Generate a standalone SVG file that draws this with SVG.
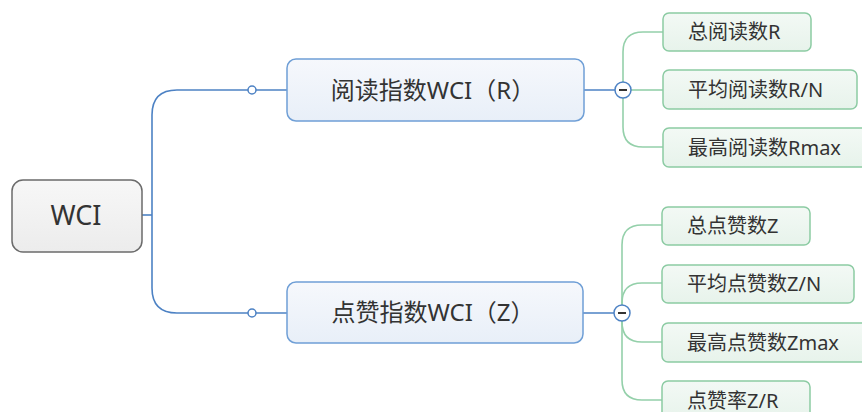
<svg xmlns="http://www.w3.org/2000/svg" width="862" height="412" viewBox="0 0 862 412">
<defs>
<linearGradient id="gRoot" x1="0" y1="0" x2="0" y2="1"><stop offset="0" stop-color="#f7f7f7"/><stop offset="1" stop-color="#ececec"/></linearGradient>
<linearGradient id="gBlue" x1="0" y1="0" x2="0" y2="1"><stop offset="0" stop-color="#f6f8fc"/><stop offset="1" stop-color="#e8eff8"/></linearGradient>
<linearGradient id="gGreen" x1="0" y1="0" x2="0" y2="1"><stop offset="0" stop-color="#f3f9f5"/><stop offset="1" stop-color="#e7f3eb"/></linearGradient>
</defs>
<style>
text{font-family:"Noto Sans","Noto Sans CJK SC",sans-serif;fill:#333}
.root{fill:url(#gRoot);stroke:#6b6b6b;stroke-width:1.5}
.main{fill:url(#gBlue);stroke:#6f9fd6;stroke-width:1.5}
.sub{fill:url(#gGreen);stroke:#8ccba3;stroke-width:1.5}
.bl{fill:none;stroke:#4d82c4;stroke-width:1.6}
.gl{fill:none;stroke:#94d0aa;stroke-width:1.6}
.dot{fill:#fff;stroke:#4d82c4;stroke-width:1.5}
.t1{font-size:27px}
.t2{font-size:24px}
.t3{font-size:20px}
</style>
<rect width="862" height="412" fill="#fff"/>
<g id="connectors">
<path class="bl" d="M142,215 H152"/>
<path class="bl" d="M287,90 H177 Q152,90 152,115 V288 Q152,313 177,313 H287"/>
<path class="bl" d="M584,90 H623"/>
<path class="bl" d="M583,313 H622"/>
<path class="gl" d="M623,90 V52 Q623,32 643,32 H663"/>
<path class="gl" d="M631,90 H663"/>
<path class="gl" d="M623,90 V127 Q623,147 643,147 H663"/>
<path class="gl" d="M622,313 V245 Q622,225 642,225 H662"/>
<path class="gl" d="M622,313 V303 Q622,283 642,283 H662"/>
<path class="gl" d="M622,313 V322 Q622,342 642,342 H662"/>
<path class="gl" d="M622,313 V380 Q622,400 642,400 H662"/>
<circle class="dot" cx="252" cy="90" r="4"/>
<circle class="dot" cx="252" cy="313" r="4"/>
<circle class="dot" cx="623" cy="90" r="8"/>
<path d="M619,90 H627" stroke="#333" stroke-width="2"/>
<circle class="dot" cx="622" cy="313" r="8"/>
<path d="M618,313 H626" stroke="#333" stroke-width="2"/>
</g>
<g id="root">
<rect class="root" x="12" y="180" width="130" height="72" rx="11"/>
<text class="t1" x="76" y="225" text-anchor="middle">WCI</text>
</g>
<g id="read">
<rect class="main" x="287" y="59" width="297" height="62" rx="9"/>
<text class="t2" x="433" y="99" text-anchor="middle">阅读指数WCI（R）</text>
</g>
<g id="like">
<rect class="main" x="287" y="282" width="296" height="61" rx="9"/>
<text class="t2" x="433" y="321" text-anchor="middle">点赞指数WCI（Z）</text>
</g>
<g id="r1"><rect class="sub" x="663" y="13" width="148" height="38" rx="6"/><text class="t3" x="688" y="39">总阅读数R</text></g>
<g id="r2"><rect class="sub" x="663" y="70" width="194" height="39" rx="6"/><text class="t3" x="688" y="97">平均阅读数R/N</text></g>
<g id="r3"><rect class="sub" x="663" y="128" width="210" height="39" rx="6"/><text class="t3" x="688" y="155">最高阅读数Rmax</text></g>
<g id="z1"><rect class="sub" x="662" y="207" width="148" height="38" rx="6"/><text class="t3" x="687" y="233">总点赞数Z</text></g>
<g id="z2"><rect class="sub" x="662" y="265" width="192" height="38" rx="6"/><text class="t3" x="687" y="291">平均点赞数Z/N</text></g>
<g id="z3"><rect class="sub" x="662" y="323" width="210" height="39" rx="6"/><text class="t3" x="687" y="350">最高点赞数Zmax</text></g>
<g id="z4"><rect class="sub" x="662" y="381" width="148" height="40" rx="6"/><text class="t3" x="687" y="408">点赞率Z/R</text></g>
</svg>
